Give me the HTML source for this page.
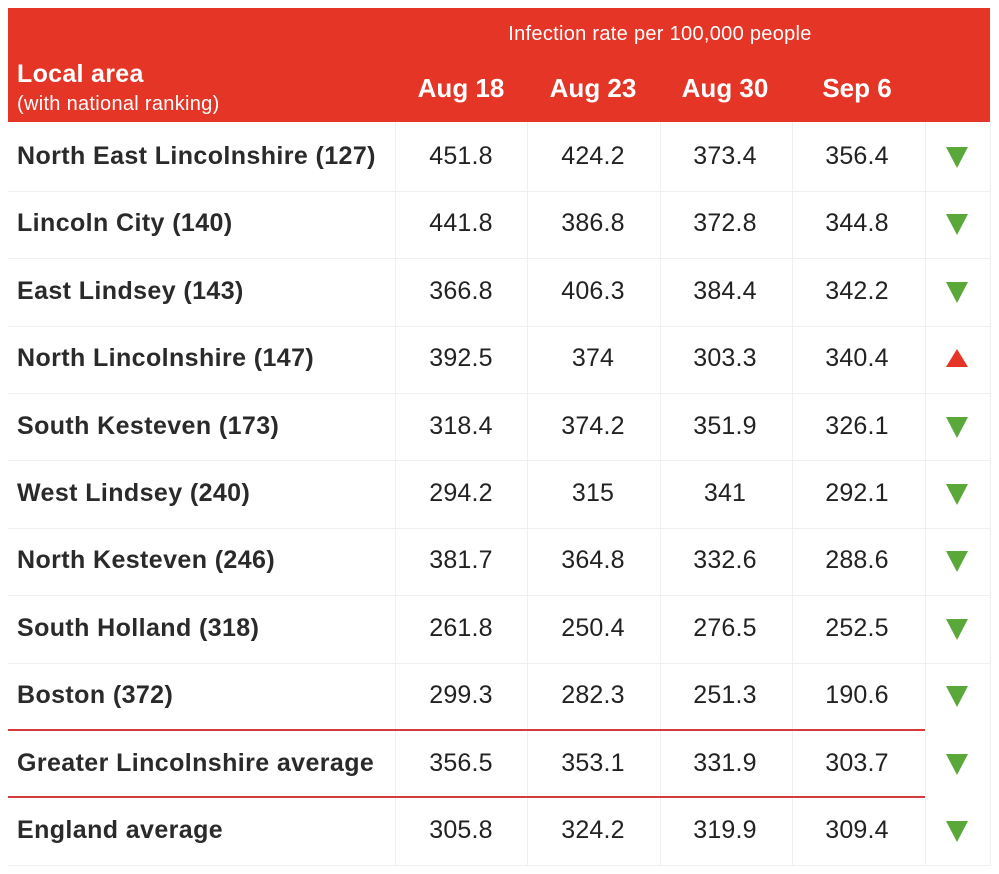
<!DOCTYPE html><html><head><style>
body{margin:0;width:999px;height:874px;background:#fff;font-family:"Liberation Sans",Arial,sans-serif;position:relative;overflow:hidden}
.hd{position:absolute;left:8px;top:8px;width:982px;height:114px;background:#e43526}
.t{position:absolute;white-space:nowrap}
.w{color:#fff}
.c{transform:translateX(-50%)}
.lbl{font-weight:bold;font-size:25px;letter-spacing:0.4px;color:#2a2a2a;left:17px}
.n{font-size:25px;letter-spacing:0.2px;color:#222;transform:translateX(-50%)}
.vl{position:absolute;top:122px;height:744px;width:1px;background:#f0f0f0}
.hl{position:absolute;left:8px;width:982px;height:1px;background:#f0f0f0}
.rl{position:absolute;left:8px;width:917px;height:2px;background:#d63a3a}
.tri{position:absolute;width:0;height:0;border-left:11px solid transparent;border-right:11px solid transparent}
.dn{border-top:21px solid #5aa83a}
.up{border-bottom:18px solid #e43526}
</style></head><body>
<div class="hd"></div>
<div class="t w c" style="left:660px;top:23px;font-size:20px;letter-spacing:0.3px">Infection rate per 100,000 people</div>
<div class="t w" style="left:17px;top:60px;font-size:25px;font-weight:bold;letter-spacing:0.3px">Local area</div>
<div class="t w" style="left:17px;top:93px;font-size:20px;letter-spacing:0.3px">(with national ranking)</div>
<div class="t w c" style="left:461px;top:73px;font-size:26px;font-weight:bold">Aug 18</div>
<div class="t w c" style="left:593px;top:73px;font-size:26px;font-weight:bold">Aug 23</div>
<div class="t w c" style="left:725px;top:73px;font-size:26px;font-weight:bold">Aug 30</div>
<div class="t w c" style="left:857px;top:73px;font-size:26px;font-weight:bold">Sep 6</div>
<div class="vl" style="left:395px"></div><div class="vl" style="left:527px"></div><div class="vl" style="left:660px"></div><div class="vl" style="left:792px"></div><div class="vl" style="left:925px"></div><div class="vl" style="left:990px"></div>
<div id="rows"></div>
<script>
var d=[["North East Lincolnshire (127)","451.8","424.2","373.4","356.4",0],
["Lincoln City (140)","441.8","386.8","372.8","344.8",0],
["East Lindsey (143)","366.8","406.3","384.4","342.2",0],
["North Lincolnshire (147)","392.5","374","303.3","340.4",1],
["South Kesteven (173)","318.4","374.2","351.9","326.1",0],
["West Lindsey (240)","294.2","315","341","292.1",0],
["North Kesteven (246)","381.7","364.8","332.6","288.6",0],
["South Holland (318)","261.8","250.4","276.5","252.5",0],
["Boston (372)","299.3","282.3","251.3","190.6",0],
["Greater Lincolnshire average","356.5","353.1","331.9","303.7",0],
["England average","305.8","324.2","319.9","309.4",0]];
var h="",xs=[461,593,725,857];
d.forEach(function(r,i){var cy=157+i*67.4;var ty=cy-15;
h+='<div class="t lbl" style="top:'+ty+'px">'+r[0]+'</div>';
for(var j=0;j<4;j++)h+='<div class="t n" style="left:'+xs[j]+'px;top:'+ty+'px">'+r[j+1]+'</div>';
h+=r[5]?'<div class="tri up" style="left:946px;top:'+(cy-10)+'px"></div>':'<div class="tri dn" style="left:946px;top:'+(cy-10)+'px"></div>';
var by=cy+33.7;
if(i==8||i==9)h+='<div class="rl" style="top:'+(by-1)+'px"></div>';else h+='<div class="hl" style="top:'+by+'px"></div>';
});
document.getElementById("rows").innerHTML=h;
</script>
</body></html>
